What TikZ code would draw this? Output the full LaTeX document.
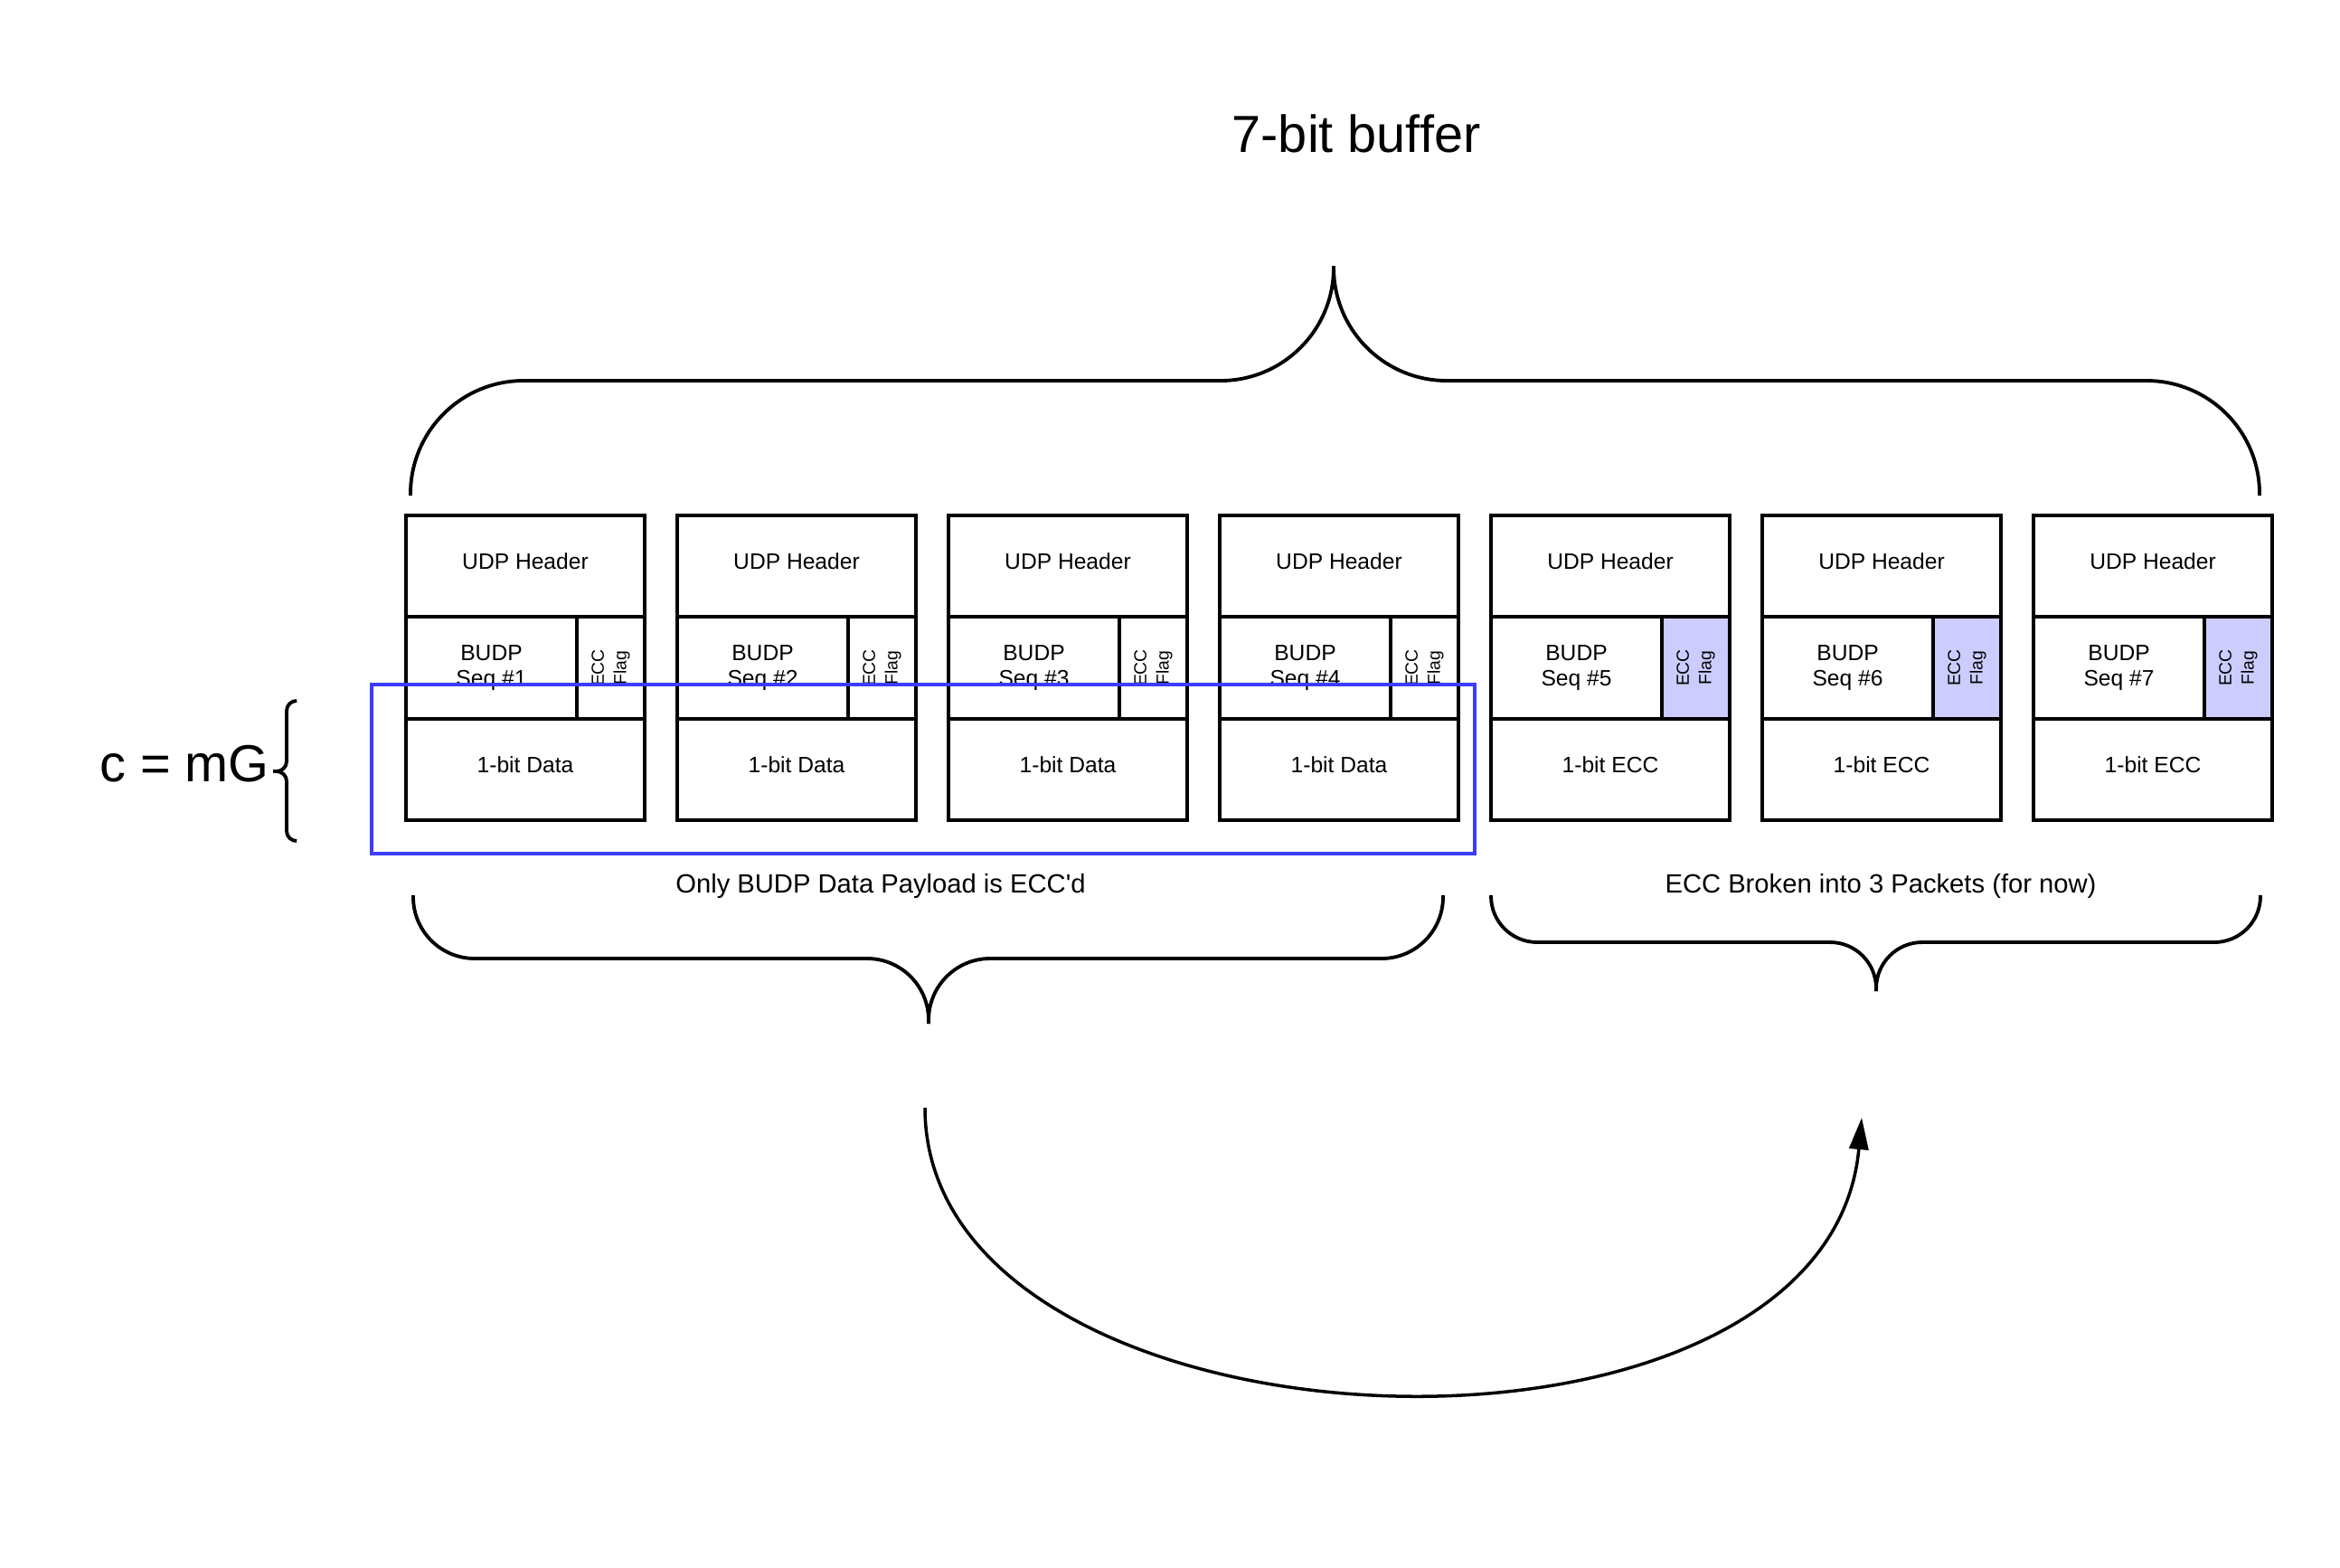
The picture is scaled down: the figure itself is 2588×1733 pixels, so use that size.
\documentclass[tikz,border=0pt]{standalone}
\usepackage{fontspec}
\setmainfont{Liberation Sans}[Ligatures=TeXOff]
\usepackage{xcolor}
\usetikzlibrary{arrows.meta}
\definecolor{flagblue}{RGB}{204,204,255}
\definecolor{boxblue}{RGB}{60,60,255}

\begin{document}
\begin{tikzpicture}[x=0.01cm, y=-0.01cm, font=\fontsize{7}{8}\selectfont, % 单位: 1 像素
    cell/.style={draw, line width=1.1pt, inner sep=0pt, minimum height=1.125cm},
    single/.style={cell, minimum width=2.64cm, text height=4.5pt, text depth=2.5pt},
    seqcell/.style={cell, minimum width=1.89cm, align=center},
    flagcell/.style={cell, rotate=90, minimum width=1.125cm, minimum height=0.75cm, align=center, font=\fontsize{5.5}{7}\selectfont},
    brace/.style={line width=1.1pt},
    big/.style={anchor=base, inner sep=0pt, font=\fontsize{16.4}{20}\selectfont},
    note/.style={anchor=base, inner sep=0pt, font=\fontsize{8.3}{10}\selectfont}]

    \useasboundingbox (0,0) rectangle (2588,1733);

    % 1. 七个数据包
    \foreach \i/\kind/\fl in {1/Data/white, 2/Data/white, 3/Data/white, 4/Data/white,
                              5/ECC/flagblue, 6/ECC/flagblue, 7/ECC/flagblue} {
        \pgfmathsetmacro{\xl}{449+300*(\i-1)}
        \node[single] (hdr\i) at (\xl+132, 626) {UDP Header};
        \node[seqcell] (seq\i) at (\xl+94.5, 738.5) {BUDP\\Seq \#\i};
        \node[flagcell, fill=\fl] (flg\i) at (\xl+226.5, 738.5) {ECC\\Flag};
        \node[single] (dat\i) at (\xl+132, 851) {1-bit \kind};
    }

    % 2. 蓝色选框
    \draw[boxblue, line width=0.95pt] (411,757) rectangle (1631,944);

    % 3. 大括号
    \draw[brace, rounded corners=1.25cm] (454,548) -- (454,421) -- (1475,421) -- (1475,294);
    \draw[brace, rounded corners=1.25cm] (1475,294) -- (1475,421) -- (2499,421) -- (2499,548);
    \draw[brace, rounded corners=0.68cm] (457,990) -- (457,1060) -- (1027,1060) -- (1027,1132);
    \draw[brace, rounded corners=0.68cm] (1027,1132) -- (1027,1060) -- (1596,1060) -- (1596,990);
    \draw[brace, rounded corners=0.51cm] (1649,990) -- (1649,1042) -- (2075,1042) -- (2075,1096);
    \draw[brace, rounded corners=0.51cm] (2075,1096) -- (2075,1042) -- (2500,1042) -- (2500,990);
    \draw[brace, rounded corners=0.11cm] (328,775) -- (317,775) -- (317,853) -- (302,853);
    \draw[brace, rounded corners=0.11cm] (302,853) -- (317,853) -- (317,930) -- (328,930);

    % 4. 文字标注
    \node[big] (title) at (1500,168) {7-bit buffer};
    \node[big] (cmg) at (204,864) {c = mG};
    \node[note] (ecclbl) at (974,987) {Only BUDP Data Payload is ECC'd};
    \node[note] (splitlbl) at (2080,987) {ECC Broken into 3 Packets (for now)};

    % 5. 弯箭头
    \coordinate (src) at (1023,1225);
    \coordinate (dst) at (2059,1236);
    \draw[-{Triangle[length=10pt, width=6pt]}, line width=1pt]
        (src) .. controls (1023,1622) and (2020,1662) .. (dst);

\end{tikzpicture}
\end{document}
